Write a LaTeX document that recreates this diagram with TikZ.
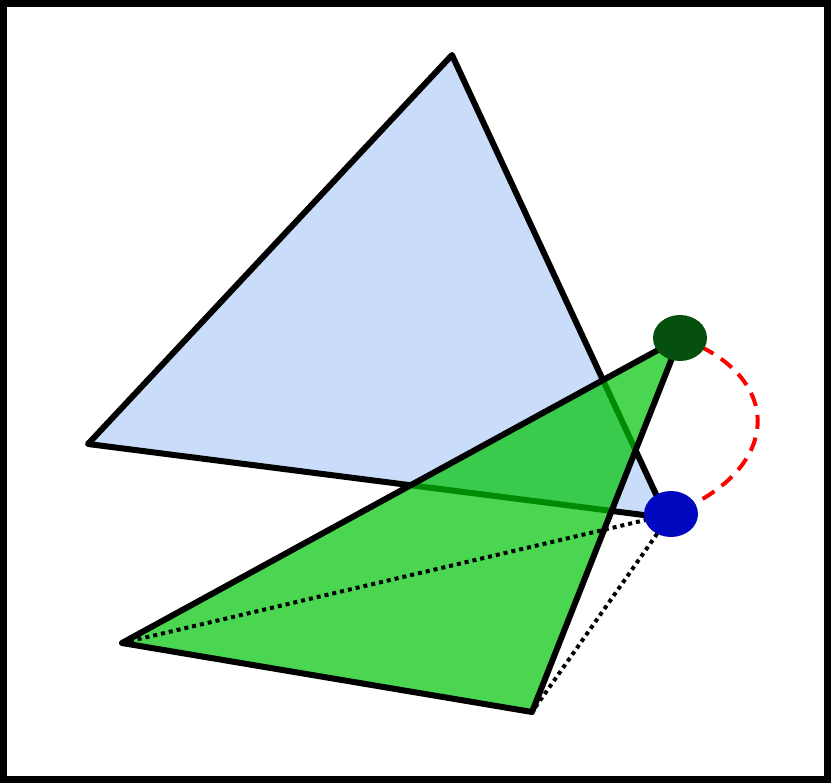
\documentclass[tikz,border=0pt]{standalone}
\usetikzlibrary{shapes.geometric}
\definecolor{paleblue}{RGB}{201,220,249}
\definecolor{leafgreen}{RGB}{0,197,8}
\definecolor{dotgreen}{RGB}{4,80,12}
\definecolor{dotblue}{RGB}{0,8,192}
\tikzset{
	edge/.style={line width=0.12cm, line join=round, line cap=round},
	ghost/.style={line width=0.08cm, dotted, dash pattern=on 0.08cm off 0.08cm},
	vertexdot/.style={ellipse, minimum width=1.08cm, minimum height=0.92cm, inner sep=0pt}
}
\begin{document}
\begin{tikzpicture}[x=0.02cm,y=-0.02cm]
	\useasboundingbox (0,0) rectangle (831,783);
	\draw[line width=0.14cm] (3.5,3.5) rectangle (827.5,779.5);
	\coordinate (a) at (452,55);
	\coordinate (b) at (88,444);
	\coordinate (c) at (667,518);
	\coordinate (p) at (680,338);
	\coordinate (q) at (122,643);
	\coordinate (r) at (532,712);
	\coordinate (g) at (680,338);
	\coordinate (h) at (671,514);
	\filldraw[edge, fill=paleblue] (a) -- (b) -- (c) -- cycle;
	\fill[leafgreen, fill opacity=0.71] (p) -- (q) -- (r) -- cycle;
	\draw[edge] (p) -- (q) -- (r) -- cycle;
	\draw[ghost] (h) -- (q);
	\draw[ghost] (h) -- (r);
	\draw[red, line width=0.08cm, dash pattern=on 0.28cm off 0.18cm] (g) .. controls (785,375) and (785,470) .. (h);
	\node[vertexdot, fill=dotgreen] (gdot) at (g) {};
	\node[vertexdot, fill=dotblue] (hdot) at (h) {};
\end{tikzpicture}
\end{document}
